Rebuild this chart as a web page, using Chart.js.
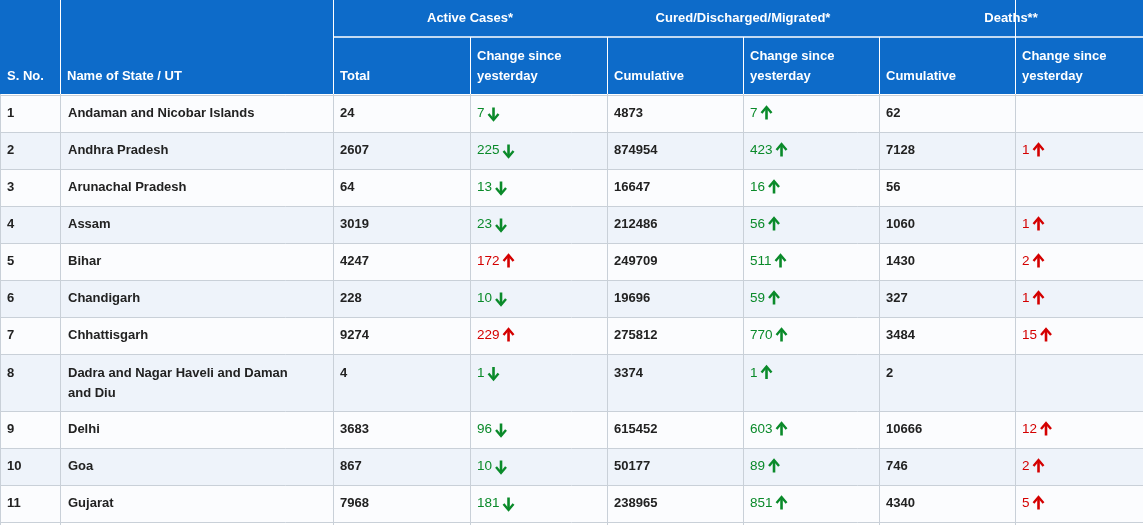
<!DOCTYPE html>
<html><head><meta charset="utf-8">
<script src="https://cdn.jsdelivr.net/npm/chart.js@4"></script>
<style>html,body{margin:0;padding:0;background:#fff}#w{width:1143px;height:525px}</style>
</head><body><div id="w"><canvas id="c"></canvas></div>
<script>
// ---- data ----
const serials = [1,2,3,4,5,6,7,8,9,10,11];
const states = ["Andaman and Nicobar Islands","Andhra Pradesh","Arunachal Pradesh","Assam","Bihar","Chandigarh","Chhattisgarh","Dadra and Nagar Haveli and Daman|and Diu","Delhi","Goa","Gujarat"];
const activeTotal = [24,2607,64,3019,4247,228,9274,4,3683,867,7968];
const activeChange = [-7,-225,-13,-23,172,-10,229,-1,-96,-10,-181];
const curedTotal = [4873,874954,16647,212486,249709,19696,275812,3374,615452,50177,238965];
const curedChange = [7,423,16,56,511,59,770,1,603,89,851];
const deathsTotal = [62,7128,56,1060,1430,327,3484,2,10666,746,4340];
const deathsChange = [null,1,null,1,2,1,15,null,12,2,5];
const groupHeaders = ["Active Cases*","Cured/Discharged/Migrated*","Deaths**"];
const colHeaders = ["S. No.","Name of State / UT","Total","Change since|yesterday","Cumulative","Change since|yesterday","Cumulative","Change since|yesterday"];

// ---- layout (coordinates in scale units) ----
const colEdges = [0,60,333,470,607,743,879,1015,1143];
const rowEdges = [95,132,169,206,243,280,317,354,411,448,485,522,560];
const BLUE = '#0d6bc9', GREEN='#0a8a2a', RED='#d40000';

function arrow(ctx,x,yc,up,color){
  ctx.save();ctx.fillStyle=color;ctx.strokeStyle=color;ctx.lineWidth=2.6;
  ctx.beginPath();ctx.moveTo(x+5,yc-6);ctx.lineTo(x+5,yc+6);ctx.stroke();
  ctx.beginPath();
  if(up){ctx.moveTo(x,yc-0.5);ctx.lineTo(x+5,yc-6.5);ctx.lineTo(x+10,yc-0.5);}
  else{ctx.moveTo(x,yc+0.5);ctx.lineTo(x+5,yc+6.5);ctx.lineTo(x+10,yc+0.5);}
  ctx.lineWidth=2.4;ctx.lineJoin='miter';ctx.stroke();ctx.restore();
}

const tablePlugin = {
  id:'table',
  afterDraw(chart){
    const ctx=chart.ctx, X=chart.scales.x, Y=chart.scales.y;
    const px=v=>X.getPixelForValue(v), py=v=>Y.getPixelForValue(v);
    ctx.save();
    // header
    ctx.fillStyle=BLUE;ctx.fillRect(px(0),py(0),px(1143)-px(0),py(94)-py(0));
    ctx.strokeStyle='#ffffff';ctx.lineWidth=1.5;
    ctx.beginPath();ctx.moveTo(px(333),py(37));ctx.lineTo(px(1143),py(37));ctx.stroke();
    ctx.lineWidth=1;
    colEdges.slice(1,-1).forEach((e,i)=>{
      const top = i>=2 && ![3,5].includes(i+1)? 0 : (i>=2?37:0);
      ctx.beginPath();ctx.moveTo(px(e)+0.5,py([3,5].includes(i+1)||i+1===2? (i+1===2?0:37):([4,6].includes(i+1)?37:0)));ctx.lineTo(px(e)+0.5,py(94));ctx.stroke();
    });
    ctx.fillStyle='#fff';ctx.font='bold 13px "Liberation Sans", Arial, sans-serif';ctx.textBaseline='middle';
    ctx.textAlign='center';
    groupHeaders.forEach((g,i)=>{ctx.fillText(g,(px(colEdges[2+2*i])+px(colEdges[4+2*i]))/2,py(18));});
    ctx.textAlign='left';
    colHeaders.forEach((h,i)=>{
      const parts=h.split('|');const x=px(colEdges[i])+7;
      if(parts.length===1) ctx.fillText(parts[0],x,py(76));
      else {ctx.fillText(parts[0],x,py(56));ctx.fillText(parts[1],x,py(76));}
    });
    // body
    serials.forEach((s,r)=>{
      const y0=py(rowEdges[r]), y1=py(rowEdges[r+1]);
      ctx.fillStyle= r%2? '#eef3fa':'#fbfcfe';
      ctx.fillRect(px(0),y0,px(1143)-px(0),y1-y0);
      const yc = r===7 ? py(rowEdges[r]+19) : (y0+y1)/2;
      const cells=[String(s),states[r],String(activeTotal[r]),null,String(curedTotal[r]),null,String(deathsTotal[r]),null];
      ctx.fillStyle='#222';ctx.font='bold 13px "Liberation Sans", Arial, sans-serif';
      cells.forEach((c,i)=>{
        if(c===null)return;const x=px(colEdges[i])+(i===1?8:7);
        const parts=c.split('|');
        parts.forEach((p,k)=>ctx.fillText(p,x,yc+k*20));
      });
      const ch=[[activeChange[r],3,true],[curedChange[r],5,false],[deathsChange[r],7,false]];
      ctx.font='13.5px "Liberation Sans", Arial, sans-serif';
      ch.forEach(([v,ci,inv])=>{
        if(v===null)return;
        const up=v>0; const good = inv? !up : up;
        const col = ci===7?RED:(good?GREEN:RED);
        const t=String(Math.abs(v)); const x=px(colEdges[ci])+7;
        ctx.fillStyle=col;ctx.fillText(t,x,yc);
        arrow(ctx,x+ctx.measureText(t).width+4,yc,up,col);
      });
    });
    // grid
    ctx.strokeStyle='#c9d0d8';ctx.lineWidth=1;
    rowEdges.forEach(e=>{ctx.beginPath();ctx.moveTo(px(0),py(e)+0.5);ctx.lineTo(px(1143),py(e)+0.5);ctx.stroke();});
    colEdges.forEach(e=>{ctx.beginPath();ctx.moveTo(px(e)+0.5,py(94));ctx.lineTo(px(e)+0.5,py(525));ctx.stroke();});
    ctx.restore();
  }
};

new Chart(document.getElementById('c'),{
  type:'scatter',
  data:{datasets:[{data:[]}]},
  options:{
    responsive:true,maintainAspectRatio:false,animation:false,
    layout:{padding:0},
    plugins:{legend:{display:false},tooltip:{enabled:false}},
    scales:{
      x:{type:'linear',min:0,max:1143,display:false},
      y:{type:'linear',min:0,max:525,reverse:true,display:false}
    }
  },
  plugins:[tablePlugin]
});
</script></body></html>
